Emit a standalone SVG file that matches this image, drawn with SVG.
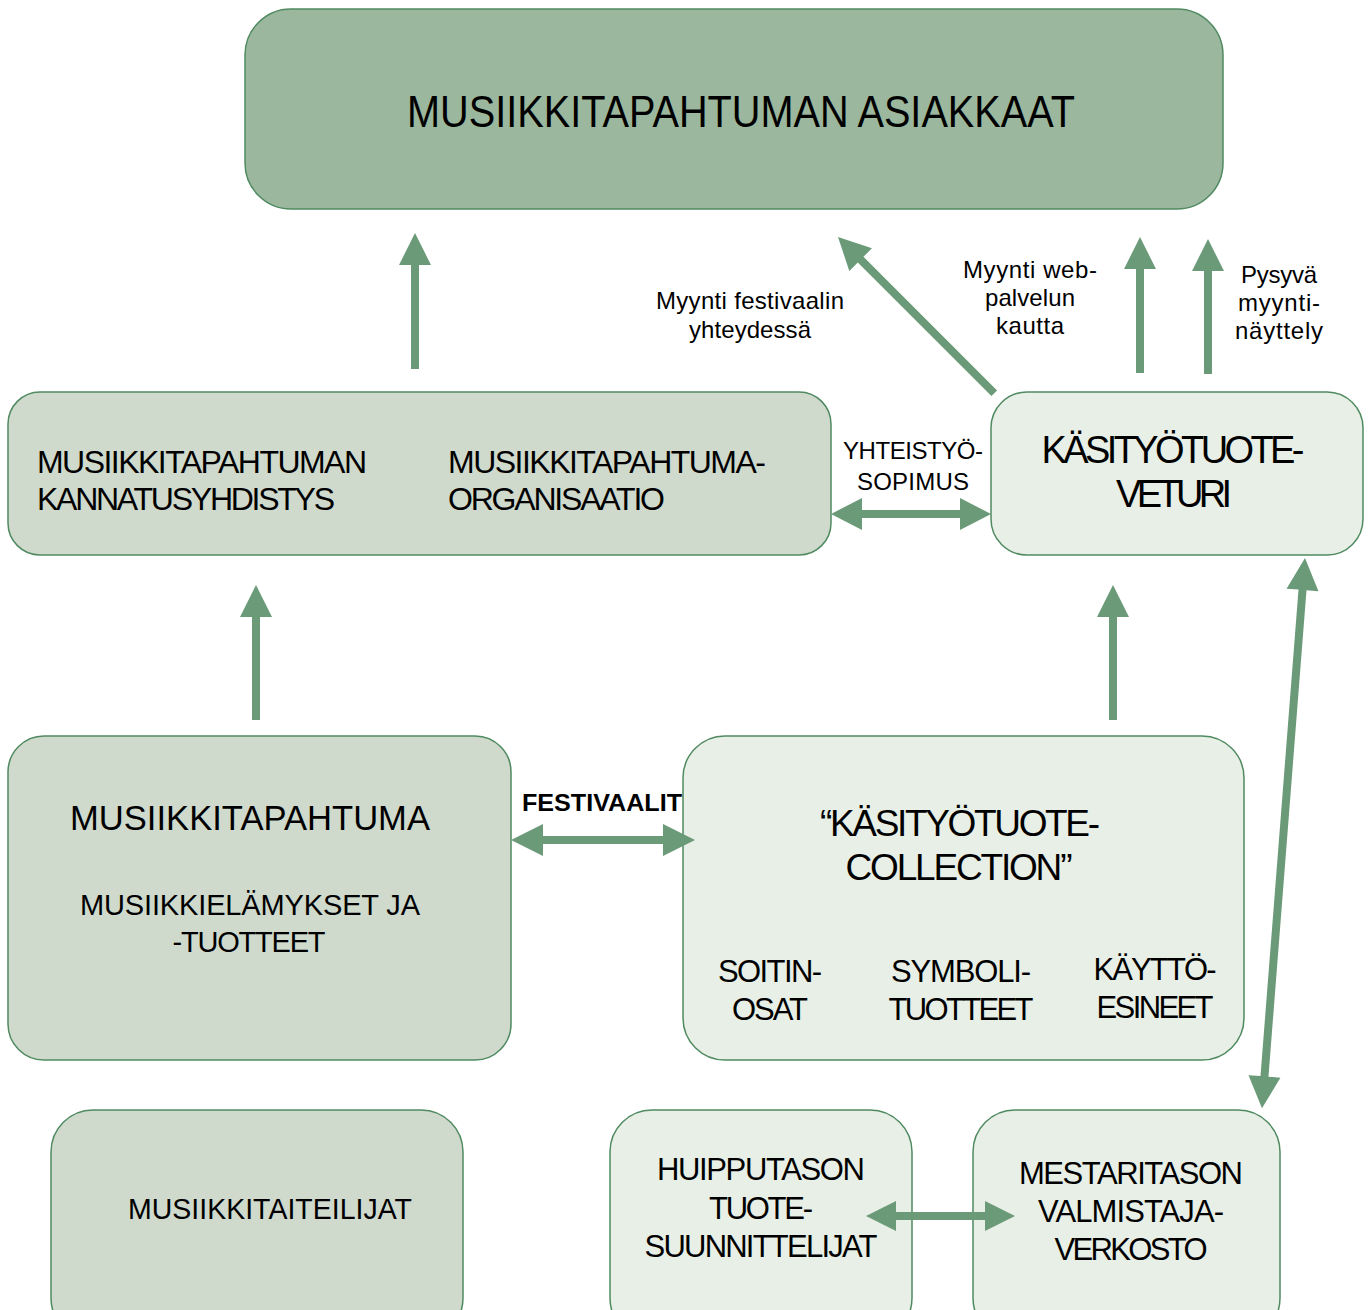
<svg xmlns="http://www.w3.org/2000/svg" width="1371" height="1310" viewBox="0 0 1371 1310">
<style>
.box{stroke:#4f8a60;stroke-width:1.5}
.dark{fill:#9bb89e}
.mid{fill:#cfdacd}
.light{fill:#e8efe6}
text{font-family:"Liberation Sans Narrow","Liberation Sans",Arial,sans-serif;fill:#000}
.w{font-family:"Liberation Sans",Arial,sans-serif}
.arr{fill:#6b9a78}
</style>
<defs>
<polygon id="up" points="0,0 16,32 4,32 4,0 -4,0 -4,32 -16,32"/>
</defs>
<rect width="1371" height="1310" fill="#fff"/>

<g id="n-asiakkaat">
<rect class="box dark" x="245" y="9" width="978" height="200" rx="46"/>
<text x="741" y="127" font-size="45" text-anchor="middle" textLength="668" lengthAdjust="spacingAndGlyphs">MUSIIKKITAPAHTUMAN ASIAKKAAT</text>
</g>

<g id="n-organisaatio">
<rect class="box mid" x="8" y="392" width="823" height="163" rx="32"/>
<text font-size="32" lengthAdjust="spacingAndGlyphs"><tspan x="37" y="473" textLength="330">MUSIIKKITAPAHTUMAN</tspan><tspan x="37" y="510" textLength="298">KANNATUSYHDISTYS</tspan></text>
<text font-size="32" lengthAdjust="spacingAndGlyphs"><tspan x="448" y="473" textLength="318">MUSIIKKITAPAHTUMA-</tspan><tspan x="448" y="510" textLength="217">ORGANISAATIO</tspan></text>
</g>

<g id="n-veturi">
<rect class="box light" x="991" y="392" width="372" height="163" rx="36"/>
<text font-size="38" text-anchor="middle" lengthAdjust="spacingAndGlyphs"><tspan x="1173" y="463" textLength="263">KÄSITYÖTUOTE-</tspan><tspan x="1174" y="507" textLength="116">VETURI</tspan></text>
</g>

<g id="n-musiikkitapahtuma">
<rect class="box mid" x="8" y="736" width="503" height="324" rx="36"/>
<text class="w" x="250" y="830" font-size="35" text-anchor="middle" textLength="360" lengthAdjust="spacingAndGlyphs">MUSIIKKITAPAHTUMA</text>
<text class="w" font-size="29" text-anchor="middle" lengthAdjust="spacingAndGlyphs"><tspan x="250" y="915" textLength="340">MUSIIKKIELÄMYKSET JA</tspan><tspan x="249" y="952" textLength="153">-TUOTTEET</tspan></text>
</g>

<g id="n-collection">
<rect class="box light" x="683" y="736" width="561" height="324" rx="42"/>
<text font-size="37" text-anchor="middle" lengthAdjust="spacingAndGlyphs"><tspan x="960" y="836" textLength="280">“KÄSITYÖTUOTE-</tspan><tspan x="959" y="880" textLength="227">COLLECTION”</tspan></text>
<text font-size="31" text-anchor="middle" lengthAdjust="spacingAndGlyphs"><tspan x="770" y="982" textLength="104">SOITIN-</tspan><tspan x="770" y="1020" textLength="76">OSAT</tspan></text>
<text font-size="31" text-anchor="middle" lengthAdjust="spacingAndGlyphs"><tspan x="961" y="982" textLength="140">SYMBOLI-</tspan><tspan x="961" y="1020" textLength="145">TUOTTEET</tspan></text>
<text font-size="31" text-anchor="middle" lengthAdjust="spacingAndGlyphs"><tspan x="1155" y="980" textLength="123">KÄYTTÖ-</tspan><tspan x="1155" y="1018" textLength="117">ESINEET</tspan></text>
</g>

<g id="n-taiteilijat">
<rect class="box mid" x="51" y="1110" width="412" height="230" rx="42"/>
<text class="w" x="128" y="1219" font-size="29" textLength="284" lengthAdjust="spacingAndGlyphs">MUSIIKKITAITEILIJAT</text>
</g>

<g id="n-suunnittelijat">
<rect class="box light" x="610" y="1110" width="302" height="230" rx="42"/>
<text font-size="31" text-anchor="middle" lengthAdjust="spacingAndGlyphs"><tspan x="761" y="1180" textLength="208">HUIPPUTASON</tspan><tspan x="761" y="1219" textLength="104">TUOTE-</tspan><tspan x="761" y="1257" textLength="233">SUUNNITTELIJAT</tspan></text>
</g>

<g id="n-verkosto">
<rect class="box light" x="973" y="1110" width="307" height="230" rx="42"/>
<text font-size="31" text-anchor="middle" lengthAdjust="spacingAndGlyphs"><tspan x="1131" y="1184" textLength="224">MESTARITASON</tspan><tspan x="1131" y="1222" textLength="186">VALMISTAJA-</tspan><tspan x="1131" y="1260" textLength="153">VERKOSTO</tspan></text>
</g>

<g id="connectors">
<!-- vertical up arrows -->
<polygon class="arr" points="415,233 431,265 419,265 419,369 411,369 411,265 399,265"/>
<polygon class="arr" points="1140,237 1156,269 1144,269 1144,373 1136,373 1136,269 1124,269"/>
<polygon class="arr" points="1208,239 1224,271 1212,271 1212,374 1204,374 1204,271 1192,271"/>
<polygon class="arr" points="256,585 272,617 260,617 260,720 252,720 252,617 240,617"/>
<polygon class="arr" points="1113,585 1129,617 1117,617 1117,720 1109,720 1109,617 1097,617"/>
<!-- diagonal arrow -->
<g transform="translate(838,237) rotate(-45)">
<polygon class="arr" points="0,0 16,32 4,32 4,221 -4,221 -4,32 -16,32"/>
</g>
<!-- double horizontal arrows -->
<polygon class="arr" points="831,514 862,498 862,510 960,510 960,498 991,514 960,530 960,518 862,518 862,530"/>
<polygon class="arr" points="511,840 543,824 543,836 663,836 663,824 695,840 663,856 663,844 543,844 543,856"/>
<polygon class="arr" points="866,1216 896,1201 896,1212 985,1212 985,1201 1015,1216 985,1231 985,1220 896,1220 896,1231"/>
<!-- long diagonal double arrow -->
<g transform="translate(1305,558) rotate(4.47)">
<polygon class="arr" points="0,0 16,32 4,32 4,520 16,520 0,552 -16,520 -4,520 -4,32 -16,32"/>
</g>
</g>

<g id="labels">
<text font-size="24" text-anchor="middle" lengthAdjust="spacingAndGlyphs"><tspan x="750" y="309" textLength="188">Myynti festivaalin</tspan><tspan x="750" y="338" textLength="122">yhteydessä</tspan></text>
<text font-size="24" text-anchor="middle" lengthAdjust="spacingAndGlyphs"><tspan x="1030" y="278" textLength="134">Myynti web-</tspan><tspan x="1030" y="306" textLength="90">palvelun</tspan><tspan x="1030" y="334" textLength="68">kautta</tspan></text>
<text font-size="24" text-anchor="middle" lengthAdjust="spacingAndGlyphs"><tspan x="1279" y="283" textLength="76">Pysyvä</tspan><tspan x="1279" y="311" textLength="82">myynti-</tspan><tspan x="1279" y="339" textLength="88">näyttely</tspan></text>
<text font-size="24" text-anchor="middle" lengthAdjust="spacingAndGlyphs"><tspan x="913" y="459" textLength="140">YHTEISTYÖ-</tspan><tspan x="913" y="490" textLength="112">SOPIMUS</tspan></text>
<text x="602" y="811" font-size="24" font-weight="bold" text-anchor="middle" textLength="160" lengthAdjust="spacingAndGlyphs">FESTIVAALIT</text>
</g>
</svg>
